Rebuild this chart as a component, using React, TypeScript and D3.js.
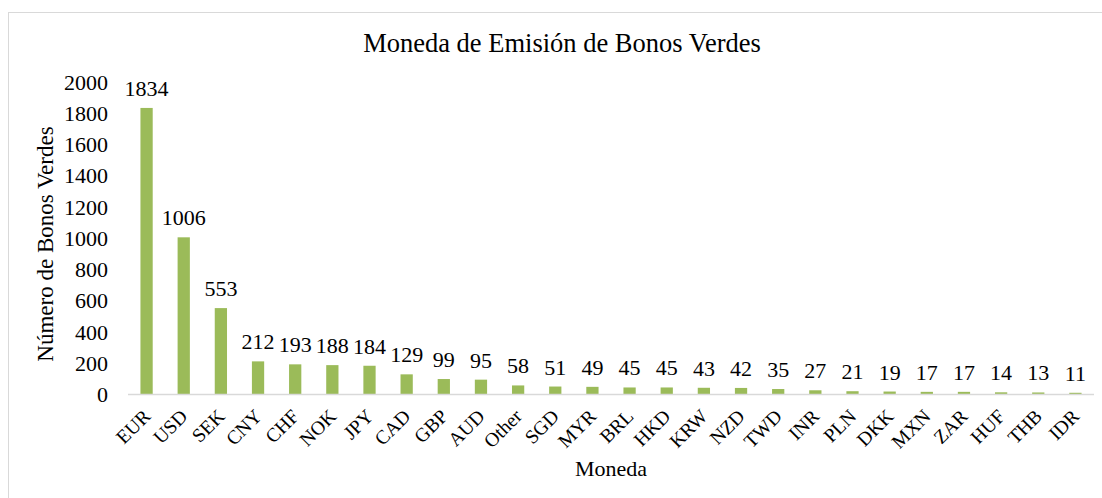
import { scaleBand, scaleLinear } from "d3";

const categories = ["EUR", "USD", "SEK", "CNY", "CHF", "NOK", "JPY", "CAD", "GBP", "AUD", "Other", "SGD", "MYR", "BRL", "HKD", "KRW", "NZD", "TWD", "INR", "PLN", "DKK", "MXN", "ZAR", "HUF", "THB", "IDR"];
const values = [1834, 1006, 553, 212, 193, 188, 184, 129, 99, 95, 58, 51, 49, 45, 45, 43, 42, 35, 27, 21, 19, 17, 17, 14, 13, 11];
const yTicks = [0, 200, 400, 600, 800, 1000, 1200, 1400, 1600, 1800, 2000];

const W = 1102;
const H = 498;
const left = 128;
const right = 1094;
const top = 82;
const bottom = 394.5;
const font = "'Liberation Serif', 'Times New Roman', serif";

export default function App() {
  const x = scaleBand<string>().domain(categories).range([left, right]);
  const y = scaleLinear().domain([0, 2000]).range([bottom, top]);
  const barW = x.bandwidth() * 0.33;

  return (
    <svg width={W} height={H} style={{ position: "absolute", left: 0, top: 0 }} fontFamily={font}>
      <rect x={0} y={0} width={W} height={H} fill="#fff" />
      <rect x={8.5} y={12.5} width={W + 10} height={H + 10} fill="none" stroke="#d9d9d9" />
      <text x={562} y={52} textAnchor="middle" fontSize={26.5} fill="#000">
        Moneda de Emisión de Bonos Verdes
      </text>
      {yTicks.map((t) => (
        <text key={t} x={108} y={y(t)} dy="0.35em" textAnchor="end" fontSize={22} fill="#000">
          {t}
        </text>
      ))}
      <text transform={`translate(53,244) rotate(-90)`} textAnchor="middle" fontSize={23} fill="#000">
        Número de Bonos Verdes
      </text>
      {categories.map((c, i) => {
        const cx = x(c)! + x.bandwidth() / 2;
        return (
          <g key={c}>
            <rect x={cx - barW / 2} y={y(values[i])} width={barW} height={bottom - y(values[i])} fill="#9bbb59" />
            <text x={cx} y={y(values[i]) - 12} textAnchor="middle" fontSize={22} fill="#000">
              {values[i]}
            </text>
            <text transform={`translate(${cx + 5},${bottom + 23}) rotate(-45)`} textAnchor="end" fontSize={19.5} fill="#000">
              {c}
            </text>
          </g>
        );
      })}
      <line x1={left} x2={right} y1={bottom} y2={bottom} stroke="#d9d9d9" strokeWidth={1.5} />
      <text x={(left + right) / 2} y={476} textAnchor="middle" fontSize={22} fill="#000">
        Moneda
      </text>
    </svg>
  );
}
